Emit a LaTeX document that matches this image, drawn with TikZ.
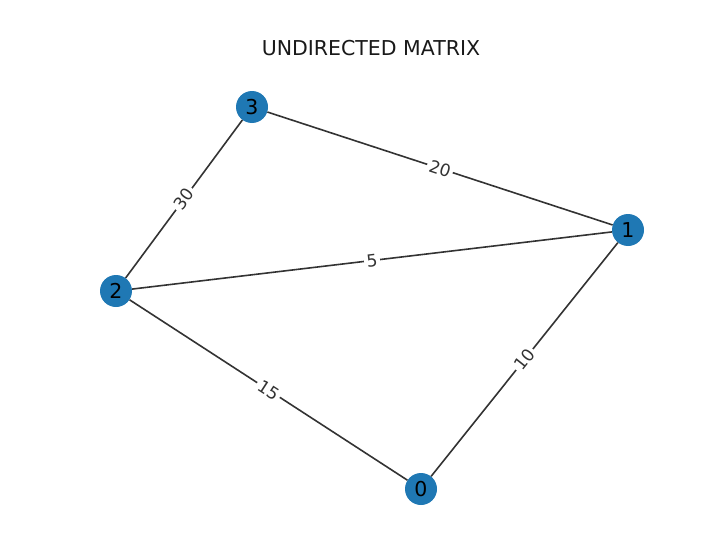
\documentclass[tikz,border=0pt]{standalone}
\usepackage{fontspec}
\setmainfont{DejaVu Sans}
\definecolor{nodeblue}{HTML}{1F78B4}
\definecolor{edgegray}{HTML}{333333}
\begin{document}
\begin{tikzpicture}[x=1pt,y=-1pt,
  vertex/.style={circle,fill=nodeblue,draw=none,minimum size=32pt,inner sep=0pt,font=\fontsize{20.5}{22}\selectfont},
  edge/.style={draw=edgegray,line width=1.6pt},
  wlabel/.style={fill=white,inner sep=2.5pt,sloped,midway,text=edgegray,font=\fontsize{17}{18}\selectfont}]
\useasboundingbox (0,0) rectangle (718,538);
\node[font=\fontsize{20.5}{22}\selectfont,text=black!90] (title) at (371,48) {UNDIRECTED MATRIX};
\node[vertex] (n0) at (421,489) {0};
\node[vertex] (n1) at (628,230) {1};
\node[vertex] (n2) at (116,291) {2};
\node[vertex] (n3) at (252,107) {3};
\path[edge] (n3) -- node[wlabel] {20} (n1);
\path[edge] (n2) -- node[wlabel] {5} (n1);
\path[edge] (n2) -- node[wlabel] {15} (n0);
\path[edge] (n1) -- node[wlabel] {10} (n0);
\path[edge] (n3) -- node[wlabel] {30} (n2);
\end{tikzpicture}
\end{document}
